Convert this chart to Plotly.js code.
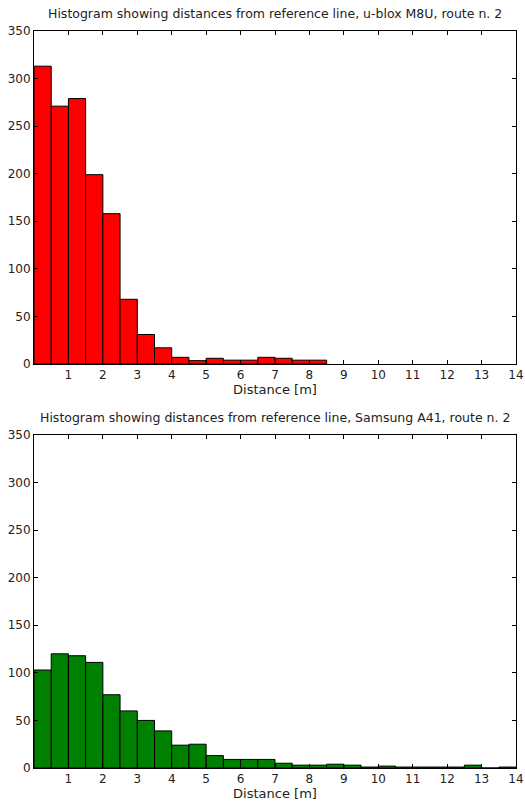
<!DOCTYPE html>
<html>
<head>
<meta charset="utf-8">
<script src="https://cdn.plot.ly/plotly-3.0.1.min.js"></script>
<style>
html,body{margin:0;padding:0;background:#fff;}
#chart{width:525px;height:803px;}
</style>
</head>
<body>
<div id="chart"></div>
<script>
// Bin left edges [m], bin width 0.5 m
const binLeftM8U = [0, 0.5, 1, 1.5, 2, 2.5, 3, 3.5, 4, 4.5, 5, 5.5, 6, 6.5, 7, 7.5, 8];
const countsM8U  = [313, 271, 279, 199, 158, 68, 31, 17, 7, 3.5, 6, 4, 4, 7, 6, 4, 4];

const binLeftA41 = [0, 0.5, 1, 1.5, 2, 2.5, 3, 3.5, 4, 4.5, 5, 5.5, 6, 6.5, 7, 7.5, 8, 8.5, 9, 9.5, 10, 10.5, 11, 11.5, 12, 12.5, 13, 13.5];
const countsA41  = [103, 120, 118, 111, 77, 60, 50, 39, 24, 25, 13, 9, 9, 9, 5, 3, 3, 4, 3, 1, 2, 1, 1, 1, 1, 3, 0, 1];

const xTicks = [1, 2, 3, 4, 5, 6, 7, 8, 9, 10, 11, 12, 13, 14];
const yTicks = [0, 50, 100, 150, 200, 250, 300, 350];

const titleTop = "Histogram showing distances from reference line, u-blox M8U, route n. 2";
const titleBottom = "Histogram showing distances from reference line, Samsung A41, route n. 2";
const xLabel = "Distance [m]";

const fontFam = "DejaVu Sans, sans-serif";

function xaxisDef(anchor) {
  return {
    anchor: anchor, range: [0, 14], tickvals: xTicks, ticktext: xTicks.map(String),
    ticks: "inside", ticklen: 4, tickcolor: "#000", mirror: "ticks",
    showline: true, linecolor: "#000", linewidth: 1, showgrid: false, zeroline: false,
    tickfont: {family: fontFam, size: 12, color: "#222"},
    title: {text: xLabel, font: {family: fontFam, size: 13, color: "#222"}, standoff: 1}
  };
}
function yaxisDef(anchor, domain) {
  return {
    anchor: anchor, domain: domain, range: [0, 350], tickvals: yTicks,
    ticks: "inside", ticklen: 4, tickcolor: "#000", mirror: "ticks",
    showline: true, linecolor: "#000", linewidth: 1, showgrid: false, zeroline: false,
    tickfont: {family: fontFam, size: 12, color: "#222"}
  };
}

const traces = [
  {type: "bar", x: binLeftM8U, y: countsM8U, width: 0.5, offset: 0,
   marker: {color: "#ff0000", line: {color: "#000", width: 1}}, xaxis: "x", yaxis: "y", hoverinfo: "x+y"},
  {type: "bar", x: binLeftA41, y: countsA41, width: 0.5, offset: 0,
   marker: {color: "#008000", line: {color: "#000", width: 1}}, xaxis: "x2", yaxis: "y2", hoverinfo: "x+y"}
];

const layout = {
  width: 525, height: 803,
  margin: {l: 34, r: 9, t: 31, b: 35},
  paper_bgcolor: "#fff", plot_bgcolor: "#fff",
  showlegend: false, bargap: 0,
  xaxis: xaxisDef("y"),
  yaxis: yaxisDef("x", [0.5482, 1]),
  xaxis2: xaxisDef("y2"),
  yaxis2: yaxisDef("x2", [0, 0.4518]),
  annotations: [
    {text: titleTop, xref: "paper", yref: "paper", x: 0.5, y: 1, yshift: 8, xanchor: "center", yanchor: "bottom",
     showarrow: false, font: {family: fontFam, size: 12.5, color: "#222"}},
    {text: titleBottom, xref: "paper", yref: "paper", x: 0.5, y: 0.4518, yshift: 8, xanchor: "center", yanchor: "bottom",
     showarrow: false, font: {family: fontFam, size: 12.5, color: "#222"}}
  ]
};

Plotly.newPlot("chart", traces, layout, {displayModeBar: false, staticPlot: true});
</script>
</body>
</html>
